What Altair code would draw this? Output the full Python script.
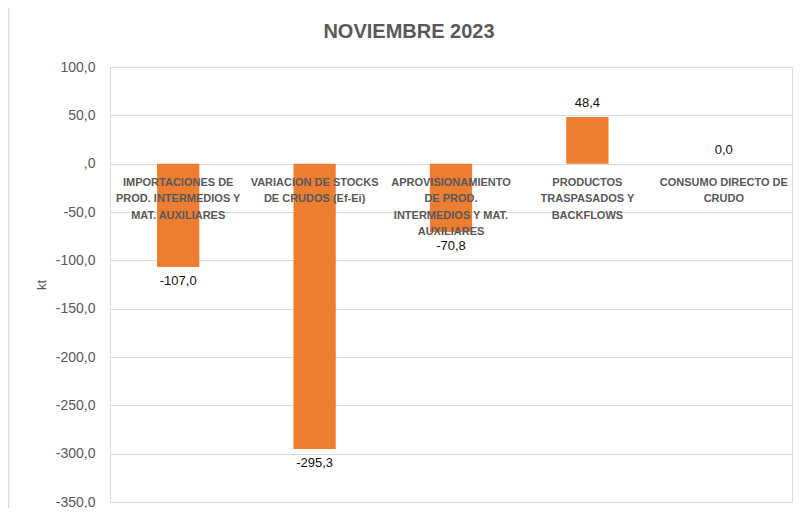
import altair as alt
import pandas as pd

categories = [
    "IMPORTACIONES DE PROD. INTERMEDIOS Y MAT. AUXILIARES",
    "VARIACION DE STOCKS DE CRUDOS (Ef-Ei)",
    "APROVISIONAMIENTO DE PROD. INTERMEDIOS Y MAT. AUXILIARES",
    "PRODUCTOS TRASPASADOS Y BACKFLOWS",
    "CONSUMO DIRECTO DE CRUDO",
]
category_lines = [
    "IMPORTACIONES DE\nPROD. INTERMEDIOS Y\nMAT. AUXILIARES",
    "VARIACION DE STOCKS\nDE CRUDOS (Ef-Ei)",
    "APROVISIONAMIENTO\nDE PROD.\nINTERMEDIOS Y MAT.\nAUXILIARES",
    "PRODUCTOS\nTRASPASADOS Y\nBACKFLOWS",
    "CONSUMO DIRECTO DE\nCRUDO",
]
values = [-107.0, -295.3, -70.8, 48.4, 0.0]
y_ticks = [100, 50, 0, -50, -100, -150, -200, -250, -300, -350]

df = pd.DataFrame({
    "cat": categories,
    "lines": category_lines,
    "value": values,
    "label": [f"{v:.1f}".replace(".", ",") for v in values],
    "zero": [0.0] * len(values),
})

FONT = "Liberation Sans"
GRAY = "#595959"

x_enc = alt.X("cat:N", sort=categories, axis=None,
              scale=alt.Scale(paddingInner=0.69, paddingOuter=0.345))

base = alt.Chart(df)

bars = base.mark_bar(color="#ED7D31").encode(
    x=x_enc,
    y=alt.Y("value:Q",
            scale=alt.Scale(domain=[-350, 100], nice=False, zero=False),
            axis=alt.Axis(
                values=y_ticks,
                title="kt",
                labelExpr="datum.value == 0 ? ',0' : replace(replace(format(datum.value, '.1f'), '.', ','), '\u2212', '-')",
                labelFont=FONT, labelFontSize=14, labelColor=GRAY,
                labelPadding=15,
                titleFont=FONT, titleFontSize=13, titleColor=GRAY,
                titleFontWeight="normal", titleX=-62,
                domain=False, ticks=False,
                grid=True, gridColor="#d9d9d9", gridWidth=1,
            )),
)

cat_text = base.mark_text(
    font=FONT, fontSize=11, fontWeight="bold", color=GRAY,
    baseline="alphabetic", align="center", dy=22,
    lineBreak="\n", lineHeight=16.5,
).encode(x=x_enc, y=alt.Y("zero:Q"), text="lines:N")

neg_text = base.transform_filter("datum.value < 0").mark_text(
    font=FONT, fontSize=13, color="#111111", baseline="middle", dy=14,
).encode(x=x_enc, y="value:Q", text="label:N")

pos_text = base.transform_filter("datum.value >= 0").mark_text(
    font=FONT, fontSize=13, color="#111111", baseline="middle", dy=-13.5,
).encode(x=x_enc, y="value:Q", text="label:N")

frame = alt.Chart(pd.DataFrame({"a": [0]})).mark_rule(
    color="#d9d9d9", strokeWidth=1.5, clip=False,
).encode(x=alt.value(-101.5), y=alt.value(-59), y2=alt.value(445))

chart = alt.layer(bars, cat_text, neg_text, pos_text, frame).properties(
    width=682,
    height=435,
    title=alt.TitleParams(
        "NOVIEMBRE 2023", font=FONT, fontSize=20, fontWeight="bold",
        color=GRAY, anchor="middle", dx=-42, offset=0, dy=51,
        baseline="alphabetic",
    ),
    autosize=alt.AutoSizeParams(type="none"),
    padding={"left": 102, "top": 59, "right": 2, "bottom": 6},
).configure_view(stroke=None).configure(background="white")

chart.save("out.html", embed_options={"renderer": "svg", "actions": False})
